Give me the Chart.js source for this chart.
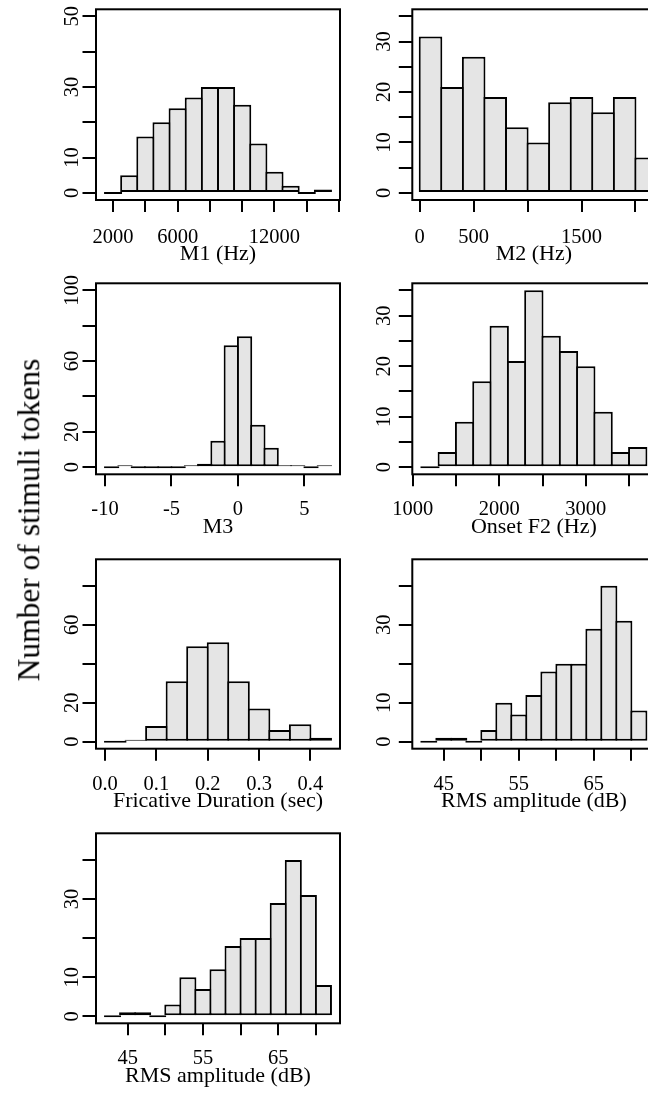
<!DOCTYPE html>
<html><head><meta charset="utf-8">
<script src="https://cdn.jsdelivr.net/npm/chart.js@4.4.1/dist/chart.umd.min.js"></script>
<style>
html,body{margin:0;padding:0;background:#fff;overflow:hidden;}
#wrap{position:relative;width:648px;height:1097px;overflow:hidden;background:#fff;}
canvas{position:absolute;}
#ylab{position:absolute;left:28.7px;top:520px;transform:translate(-50%,-50%) rotate(-90deg);white-space:nowrap;font-family:'Liberation Serif','Times New Roman',serif;font-size:31.5px;line-height:1;color:#000;}
</style></head><body>
<div id="wrap">
<canvas id="p1"></canvas><canvas id="p2"></canvas>
<canvas id="p3"></canvas><canvas id="p4"></canvas>
<canvas id="p5"></canvas><canvas id="p6"></canvas>
<canvas id="p7"></canvas>
<div id="ylab">Number of stimuli tokens</div>
</div>
<script>
// ---------- data ----------
const m1Breaks = [1500,2500,3500,4500,5500,6500,7500,8500,9500,10500,11500,12500,13500,14500,15500];
const m1Counts = [0,5,16,20,24,27,30,30,25,14,6,2,0,1];
const m1XTicks = [2000,4000,6000,8000,10000,12000,14000,16000];
const m1XLabels = ['2000','6000','12000'];
const m1YTicks = [0,10,20,30,40,50];
const m1YLabels = ['0','10','30','50'];

const m2Breaks = [0,200,400,600,800,1000,1200,1400,1600,1800,2000,2200];
const m2Counts = [31,21,27,19,13,10,18,19,16,19,7];
const m2XTicks = [0,500,1000,1500,2000];
const m2XLabels = ['0','500','1500'];
const m2YTicks = [0,5,10,15,20,25,30,35];
const m2YLabels = ['0','10','20','30'];

const m3Breaks = [-10,-9,-8,-7,-6,-5,-4,-3,-2,-1,0,1,2,3,4,5,6,7];
const m3Counts = [0,1,0,0,0,0,1,2,15,69,74,24,11,1,1,0,1];
const m3XTicks = [-10,-5,0,5];
const m3XLabels = ['-10','-5','0','5'];
const m3YTicks = [0,20,40,60,80,100];
const m3YLabels = ['0','20','60','100'];

const f2Breaks = [1100,1300,1500,1700,1900,2100,2300,2500,2700,2900,3100,3300,3500,3700];
const f2Counts = [0,3,9,17,28,21,35,26,23,20,11,3,4];
const f2XTicks = [1000,1500,2000,2500,3000,3500];
const f2XLabels = ['1000','2000','3000'];
const f2YTicks = [0,5,10,15,20,25,30,35];
const f2YLabels = ['0','10','20','30'];

const durBreaks = [0,0.04,0.08,0.12,0.16,0.20,0.24,0.28,0.32,0.36,0.40,0.44];
const durCounts = [0,1,8,31,49,51,31,17,6,9,2];
const durXTicks = [0,0.1,0.2,0.3,0.4];
const durXLabels = ['0.0','0.1','0.2','0.3','0.4'];
const durYTicks = [0,20,40,60,80];
const durYLabels = ['0','20','60'];

const rmsBreaks = [42,44,46,48,50,52,54,56,58,60,62,64,66,68,70,72];
const rmsCounts = [0,1,1,0,3,10,7,12,18,20,20,29,40,31,8];
const rmsXTicks = [45,50,55,60,65,70];
const rmsXLabels = ['45','55','65'];
const rmsYTicks = [0,10,20,30,40];
const rmsYLabels = ['0','10','30'];

// ---------- styling / layout ----------
const FONT = "'Liberation Serif','Times New Roman',serif";
const TICK_SIZE = 20.5;
const TITLE_SIZE = 22;
const BW = 2;

function labelFor(list, v) {
  for (const l of list) { if (Math.abs(parseFloat(l) - v) < 1e-9) return l; }
  return null;
}

const rPlugin = {
  id: 'rbox',
  afterDatasetsDraw(chart) {
    const {ctx, chartArea: a} = chart;
    ctx.save();
    ctx.strokeStyle = '#000'; ctx.lineWidth = 2;
    ctx.strokeRect(a.left, a.top, a.right - a.left, a.bottom - a.top);
    ctx.restore();
  },
  afterDraw(chart, args, opts) {
    const ys = chart.scales.y, ctx = chart.ctx;
    ctx.save();
    ctx.fillStyle = '#000';
    ctx.font = TICK_SIZE + 'px ' + FONT;
    ctx.textAlign = 'center'; ctx.textBaseline = 'middle';
    for (const t of ys.ticks) {
      const lab = labelFor(opts.labels, t.value);
      if (lab === null) continue;
      const y = ys.getPixelForValue(t.value);
      ctx.save(); ctx.translate(opts.x, y); ctx.rotate(-Math.PI / 2);
      ctx.fillText(lab, 0, 0); ctx.restore();
    }
    ctx.restore();
  }
};

function panel(id, s) {
  const cv = document.getElementById(id);
  cv.width = s.cw; cv.height = s.ch;
  cv.style.left = s.cl + 'px'; cv.style.top = s.ct + 'px';
  cv.style.width = s.cw + 'px'; cv.style.height = s.ch + 'px';
  const XH = s.xh;
  const YW = s.box[0] - s.cl;
  const PT = s.box[1] - s.ct;
  const PR = s.cl + s.cw - s.box[2];
  const PB = s.ct + s.ch - (s.box[3] + XH);
  const areaW = s.box[2] - s.box[0];
  const binPx = (s.breaks[1] - s.breaks[0]) / (s.xMax - s.xMin) * areaW;
  const pts = s.counts.map((c, i) => ({x: (s.breaks[i] + s.breaks[i + 1]) / 2, y: c}));
  return new Chart(cv, {
    type: 'bar',
    data: { datasets: [{
      data: pts,
      backgroundColor: '#e5e5e5', borderColor: '#000', borderWidth: BW,
      borderSkipped: false, inflateAmount: 0, minBarLength: 2,
      barPercentage: 1 + BW / binPx, categoryPercentage: 1, grouped: false, clip: false
    }]},
    options: {
      responsive: false, maintainAspectRatio: false, animation: false, devicePixelRatio: 1,
      layout: { padding: { left: 0, top: PT, right: PR, bottom: PB } },
      plugins: { legend: { display: false }, tooltip: { enabled: false },
        rbox: { labels: s.yLabels, x: s.yLabX - s.cl } },
      scales: {
        x: {
          type: 'linear', min: s.xMin, max: s.xMax, offset: false,
          grid: { display: true, offset: false, drawOnChartArea: false, drawTicks: true,
                  tickLength: 12, tickWidth: 2, lineWidth: 2, tickColor: '#000', color: '#000' },
          border: { display: false },
          afterBuildTicks(sc) { sc.ticks = s.xTicks.map(v => ({ value: v })); },
          ticks: { autoSkip: false, maxRotation: 0, minRotation: 0,
                   padding: s.xPad, color: '#000', font: { family: FONT, size: TICK_SIZE, lineHeight: 1 },
                   callback: v => { const l = labelFor(s.xLabels, v); return l === null ? '' : l; } },
          title: { display: true, text: s.title, color: '#000', padding: 0,
                   font: { family: FONT, size: TITLE_SIZE, lineHeight: 1 } },
          afterFit(sc) { sc.height = XH; sc.paddingLeft = 0; sc.paddingRight = 0; }
        },
        y: {
          type: 'linear', min: s.yMin, max: s.yMax,
          grid: { display: true, drawOnChartArea: false, drawTicks: true,
                  tickLength: 13.5, tickWidth: 2, lineWidth: 2, tickColor: '#000', color: '#000' },
          border: { display: false },
          afterBuildTicks(sc) { sc.ticks = s.yTicks.map(v => ({ value: v })); },
          ticks: { display: false },
          afterFit(sc) { sc.width = YW; sc.paddingTop = 0; sc.paddingBottom = 0; }
        }
      }
    },
    plugins: [rPlugin]
  });
}

const LX = 73, RX = 385;
panel('p1', { cl: 0, ct: 0, cw: 352, ch: 266, box: [96, 9.3, 340, 200], xh: 65.5,
  breaks: m1Breaks, counts: m1Counts, xMin: 940, xMax: 16060, xTicks: m1XTicks,
  yMin: -2, yMax: 52, yTicks: m1YTicks, xLabels: m1XLabels, yLabels: m1YLabels,
  title: 'M1 (Hz)', yLabX: LX, xPad: 15.8 });
panel('p2', { cl: 356, ct: 0, cw: 300, ch: 266, box: [412.3, 9.3, 655.4, 200], xh: 65.5,
  breaks: m2Breaks, counts: m2Counts, xMin: -69, xMax: 2185, xTicks: m2XTicks,
  yMin: -1.4, yMax: 36.4, yTicks: m2YTicks, xLabels: m2XLabels, yLabels: m2YLabels,
  title: 'M2 (Hz)', yLabX: RX, xPad: 15.8 });
panel('p3', { cl: 0, ct: 273, cw: 352, ch: 265, box: [96, 283.3, 340, 474.3], xh: 63.5,
  breaks: m3Breaks, counts: m3Counts, xMin: -10.68, xMax: 7.68, xTicks: m3XTicks,
  yMin: -4, yMax: 104, yTicks: m3YTicks, xLabels: m3XLabels, yLabels: m3YLabels,
  title: 'M3', yLabX: LX, xPad: 13.2 });
panel('p4', { cl: 356, ct: 273, cw: 300, ch: 265, box: [412.3, 283.3, 655.4, 474.3], xh: 63.5,
  breaks: f2Breaks, counts: f2Counts, xMin: 996, xMax: 3804, xTicks: f2XTicks,
  yMin: -1.4, yMax: 36.4, yTicks: f2YTicks, xLabels: f2XLabels, yLabels: f2YLabels,
  title: 'Onset F2 (Hz)', yLabX: RX, xPad: 13.2 });
panel('p5', { cl: 0, ct: 549, cw: 352, ch: 264, box: [96, 559.3, 340, 748.7], xh: 64,
  breaks: durBreaks, counts: durCounts, xMin: -0.0176, xMax: 0.4576, xTicks: durXTicks,
  yMin: -3.6, yMax: 93.6, yTicks: durYTicks, xLabels: durXLabels, yLabels: durYLabels,
  title: 'Fricative Duration (sec)', yLabX: LX, xPad: 13.2 });
panel('p6', { cl: 356, ct: 549, cw: 300, ch: 264, box: [412.3, 559.3, 655.4, 748.7], xh: 64,
  breaks: rmsBreaks, counts: rmsCounts, xMin: 40.8, xMax: 73.2, xTicks: rmsXTicks,
  yMin: -1.8, yMax: 46.8, yTicks: rmsYTicks, xLabels: rmsXLabels, yLabels: rmsYLabels,
  title: 'RMS amplitude (dB)', yLabX: RX, xPad: 13.2 });
panel('p7', { cl: 0, ct: 823, cw: 352, ch: 264, box: [96, 833.3, 340, 1023.3], xh: 63.5,
  breaks: rmsBreaks, counts: rmsCounts, xMin: 40.8, xMax: 73.2, xTicks: rmsXTicks,
  yMin: -1.8, yMax: 46.8, yTicks: rmsYTicks, xLabels: rmsXLabels, yLabels: rmsYLabels,
  title: 'RMS amplitude (dB)', yLabX: LX, xPad: 13.2 });
</script>
</body></html>
